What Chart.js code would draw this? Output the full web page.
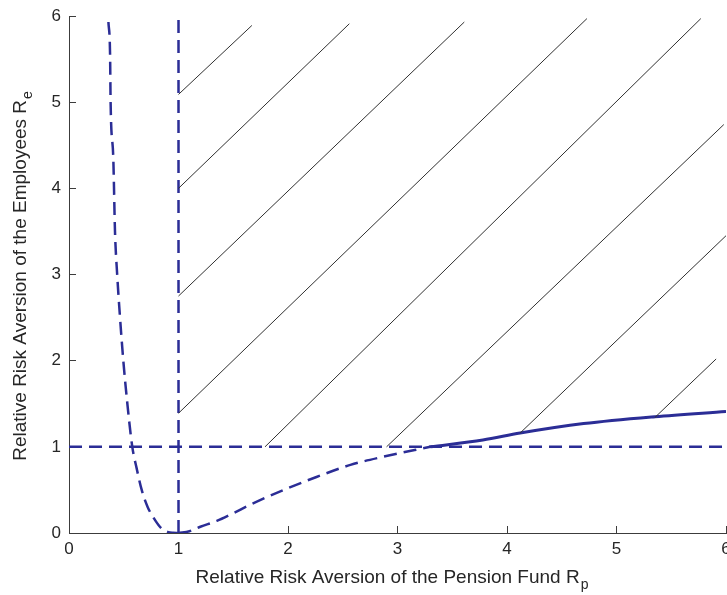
<!DOCTYPE html>
<html>
<head>
<meta charset="utf-8">
<script src="https://cdn.jsdelivr.net/npm/chart.js@4.4.1/dist/chart.umd.min.js"></script>
<style>
  html, body { margin: 0; padding: 0; background: #fff; overflow: hidden; }
  #wrap { width: 740px; height: 595px; }
</style>
</head>
<body>
<div id="wrap"><canvas id="myChart" width="740" height="595"></canvas></div>
<script>
// Left branch of the boundary (dashed), Rp vs Re
const leftCurveX = [0.36, 0.375, 0.38, 0.405, 0.42, 0.44, 0.466, 0.496, 0.533, 0.578, 0.618, 0.664, 0.719, 0.786, 0.847, 0.907, 0.95, 1.0];
const leftCurveY = [5.93, 5.56, 5.0, 4.33, 3.5, 3.0, 2.5, 2.0, 1.5, 1.0, 0.75, 0.5, 0.3, 0.15, 0.05, 0.01, 0.002, 0];

// Right branch, dashed part (below Re = 1)
const rightDashX = [1.0, 1.1, 1.2, 1.35, 1.5, 1.65, 1.96, 2.26, 2.57, 2.87, 3.3];
const rightDashY = [0, 0.02, 0.073, 0.14, 0.23, 0.325, 0.5, 0.65, 0.79, 0.885, 1.0];

// Right branch, solid part (above Re = 1)
const rightSolidX = [3.3, 3.78, 4.12, 4.7, 5.35, 6.0];
const rightSolidY = [1.0, 1.08, 1.16, 1.27, 1.35, 1.41];

// Hatch lines of the feasible region
const hatchStartX = [1, 1, 1, 1, 1.79, 2.9, 4.12, 5.35];
const hatchStartY = [5.09, 4.0, 2.75, 1.39, 1.0, 1.0, 1.16, 1.34];
const hatchEndX = [1.67, 2.56, 3.61, 4.73, 5.77, 5.98, 6.0, 5.91];
const hatchEndY = [5.89, 5.91, 5.93, 5.97, 5.97, 4.74, 3.45, 2.02];

const xTicks = [0, 1, 2, 3, 4, 5, 6];
const yTicks = [0, 1, 2, 3, 4, 5, 6];

const xTitle = "Relative Risk Aversion of the Pension Fund R";
const xTitleSub = "p";
const yTitle = "Relative Risk Aversion of the Employees R";
const yTitleSub = "e";

const blue = "#2b2d96";
const axisColor = "#3c3c3c";
const fontFamily = "'Liberation Sans', Arial, sans-serif";

const toPoints = (xs, ys) => xs.map((x, i) => ({ x: x, y: ys[i] }));

const datasets = [
  {
    data: toPoints(leftCurveX, leftCurveY),
    borderColor: blue,
    borderWidth: 2.5,
    borderDash: [13, 7],
    cubicInterpolationMode: "monotone",
  },
  {
    data: toPoints(rightDashX, rightDashY),
    borderColor: blue,
    borderWidth: 2.5,
    borderDash: [13, 7],
    cubicInterpolationMode: "monotone",
  },
  {
    data: toPoints(rightSolidX, rightSolidY),
    borderColor: blue,
    borderWidth: 3,
    cubicInterpolationMode: "monotone",
  },
  {
    // Re = 1
    data: [{ x: 0, y: 1 }, { x: 6, y: 1 }],
    borderColor: blue,
    borderWidth: 2.5,
    borderDash: [13, 7],
  },
  {
    // Rp = 1
    data: [{ x: 1, y: 0 }, { x: 1, y: 6 }],
    borderColor: blue,
    borderWidth: 2.5,
    borderDash: [13, 7],
  },
];

// one thin black segment for every hatch line
hatchStartX.forEach((x0, i) => {
  datasets.unshift({
    data: [{ x: x0, y: hatchStartY[i] }, { x: hatchEndX[i], y: hatchEndY[i] }],
    borderColor: "#303030",
    borderWidth: 1,
  });
});

// axis titles with a subscript, drawn as canvas text
const axisTitles = {
  id: "axisTitles",
  afterDraw(chart) {
    const ctx = chart.ctx;
    const area = chart.chartArea;
    ctx.save();
    ctx.fillStyle = "#262626";
    ctx.textBaseline = "alphabetic";
    ctx.textAlign = "left";

    const mainFont = "19px " + fontFamily;
    const subFont = "14px " + fontFamily;

    // x title
    ctx.font = mainFont;
    const wx = ctx.measureText(xTitle).width;
    ctx.font = subFont;
    const wsx = ctx.measureText(xTitleSub).width;
    let x0 = (area.left + area.right) / 2 - 6 - (wx + wsx) / 2;
    ctx.font = mainFont;
    ctx.fillText(xTitle, x0, 583);
    ctx.font = subFont;
    ctx.fillText(xTitleSub, x0 + wx + 1, 589);

    // y title, rotated
    ctx.translate(26, (area.top + area.bottom) / 2 + 2);
    ctx.rotate(-Math.PI / 2);
    ctx.font = mainFont;
    const wy = ctx.measureText(yTitle).width;
    ctx.font = subFont;
    const wsy = ctx.measureText(yTitleSub).width;
    const y0 = -(wy + wsy) / 2;
    ctx.font = mainFont;
    ctx.fillText(yTitle, y0, 0);
    ctx.font = subFont;
    ctx.fillText(yTitleSub, y0 + wy + 1, 6);
    ctx.restore();
  },
};

// keep tick label padding from pushing the plot area around
const noScalePadding = (scale) => {
  scale.paddingTop = 0;
  scale.paddingBottom = 0;
  scale.paddingLeft = 0;
  scale.paddingRight = 0;
};

const ctx = document.getElementById("myChart").getContext("2d");
const myChart = new Chart(ctx, {
  type: "line",
  data: { datasets: datasets },
  options: {
    responsive: false,
    animation: false,
    devicePixelRatio: 1,
    layout: { padding: { top: 16, right: 14, left: 0, bottom: 0 } },
    elements: {
      point: { radius: 0, hoverRadius: 0 },
      line: { fill: false, tension: 0 },
    },
    plugins: { legend: { display: false }, tooltip: { enabled: false } },
    scales: {
      x: {
        type: "linear",
        min: 0,
        max: 6,
        afterBuildTicks: (scale) => { scale.ticks = xTicks.map((v) => ({ value: v })); },
        afterFit: (scale) => { scale.height = 62; noScalePadding(scale); },
        ticks: { color: "#262626", padding: 13, font: { family: fontFamily, size: 17 } },
        grid: { drawOnChartArea: false, tickLength: -7, color: axisColor },
        border: { color: axisColor, width: 1 },
      },
      y: {
        type: "linear",
        min: 0,
        max: 6,
        afterBuildTicks: (scale) => { scale.ticks = yTicks.map((v) => ({ value: v })); },
        afterFit: (scale) => { scale.width = 69; noScalePadding(scale); },
        ticks: { color: "#262626", padding: 15, font: { family: fontFamily, size: 17 } },
        grid: { drawOnChartArea: false, tickLength: -7, color: axisColor },
        border: { color: axisColor, width: 1 },
      },
    },
  },
  plugins: [axisTitles],
});
</script>
</body>
</html>
